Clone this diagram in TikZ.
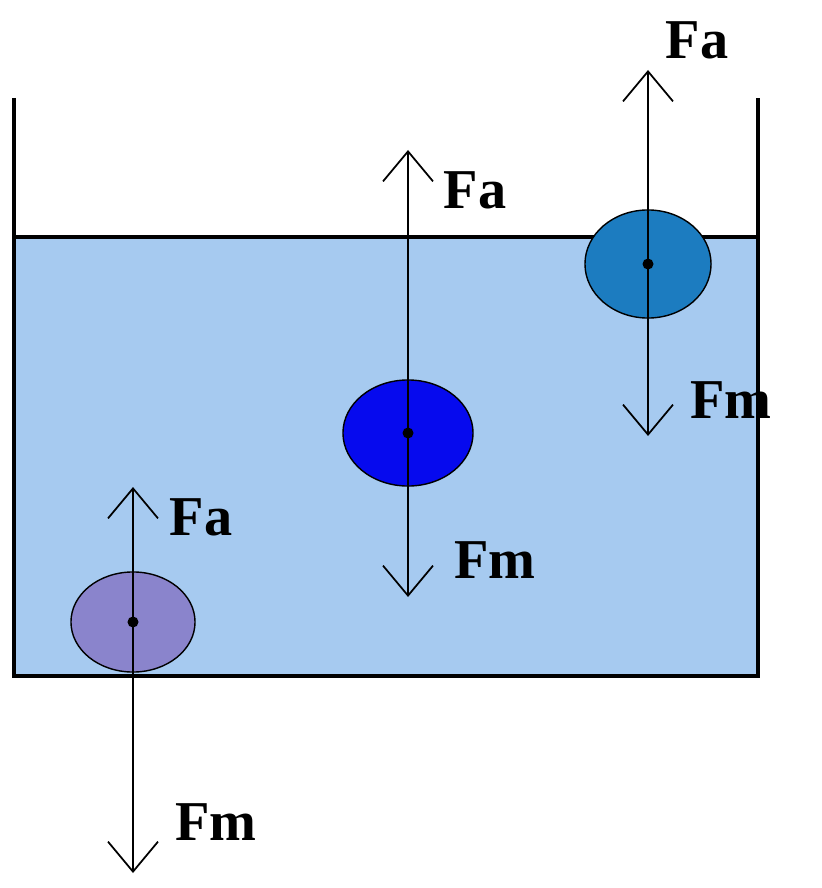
\documentclass[tikz,border=0pt]{standalone}
\usepackage{fontspec}
\setmainfont{Liberation Serif}
\usetikzlibrary{arrows.meta, positioning, shapes.geometric}
\definecolor{waterBlue}{RGB}{166,202,240}
\definecolor{ballTeal}{RGB}{28,124,192}
\definecolor{ballBlue}{RGB}{6,10,238}
\definecolor{ballLilac}{RGB}{138,132,204}
\tikzset{
    wallLine/.style={line width=0.9pt, draw=black},
    ballNode/.style={ellipse, draw=black, thin, inner sep=0pt},
    centerDot/.style={circle, fill=black, inner sep=0pt, minimum size=1.1mm},
    forceLine/.style={-{Straight Barb[length=3mm, width=5mm, line width=0.5pt]}, line width=0.7pt},
    forceLabel/.style={font=\fontsize{16}{18}\selectfont\bfseries, inner sep=0pt}
}
\begin{document}
\begin{tikzpicture}[x=0.01cm, y=-0.01cm]
        \useasboundingbox (0,0) rectangle (821,888);

        % Coordinates
        \coordinate (TL) at (14,98);
        \coordinate (TR) at (758,98);
        \coordinate (WL) at (14,237);
        \coordinate (WR) at (758,237);
        \coordinate (BL) at (14,676);
        \coordinate (BR) at (758,676);

        % 1. Water and vessel
        \fill[waterBlue] (WL) rectangle (BR);
        \draw[wallLine] (TL) -- (BL) -- (BR) -- (TR);
        \draw[wallLine] (WL) -- (WR);

        % 2. Balls
        \node[ballNode, fill=ballTeal, minimum width=1.26cm, minimum height=1.08cm] (B3) at (648,264) {};
        \node[ballNode, fill=ballBlue, minimum width=1.30cm, minimum height=1.06cm] (B2) at (408,433) {};
        \node[ballNode, fill=ballLilac, minimum width=1.24cm, minimum height=1.00cm] (B1) at (133,622) {};

        % 3. Force tips
        \coordinate (A3) at (648,70);
        \coordinate (M3) at (648,436);
        \coordinate (A2) at (408,150);
        \coordinate (M2) at (408,597);
        \coordinate (A1) at (133,487);
        \coordinate (M1) at (133,873);

        % 4. Force vectors (drawn over the balls)
        \foreach \b in {1,2,3} {
            \draw[forceLine] (B\b.center) -- (A\b);
            \draw[forceLine] (B\b.center) -- (M\b);
            \node[centerDot] at (B\b.center) {};
        }

        % 5. Labels
        \node[forceLabel] (LA3) at (697,40) {Fa};
        \node[forceLabel] (LM3) at (731,400) {Fm};
        \node[forceLabel] (LA2) at (475,190) {Fa};
        \node[forceLabel] (LM2) at (495,560) {Fm};
        \node[forceLabel] (LA1) at (201,517) {Fa};
        \node[forceLabel] (LM1) at (216,822) {Fm};

    \end{tikzpicture}
\end{document}
